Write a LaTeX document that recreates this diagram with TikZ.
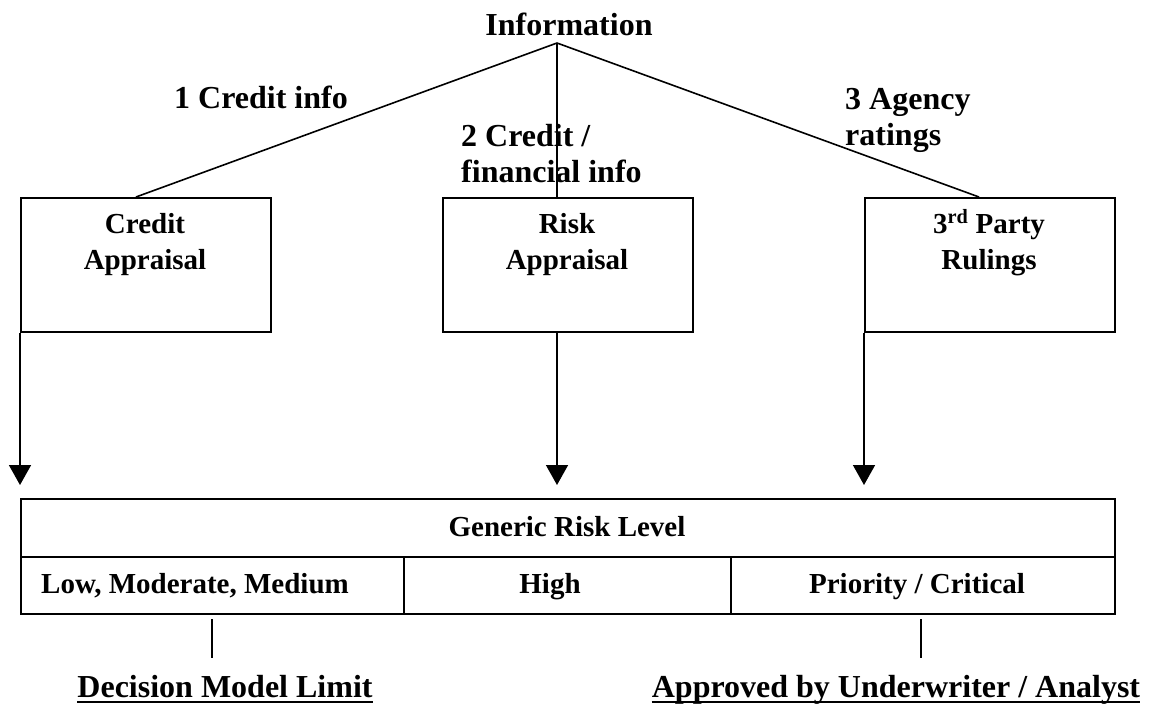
\documentclass[tikz,border=0pt]{standalone}
\usepackage{fontspec}
\setmainfont{Liberation Serif}
\usetikzlibrary{arrows.meta,calc}
\begin{document}
\begin{tikzpicture}[x=1pt,y=-1pt,
  box/.style={draw, line width=1.8pt, minimum width=250pt, minimum height=134pt, anchor=north west, inner sep=0pt},
  cell/.style={draw, line width=1.8pt, anchor=north west, inner sep=0pt},
  conn/.style={line width=1.6pt},
  arr/.style={line width=1.6pt, -{Triangle[width=22pt,length=20pt]}},
  big/.style={inner sep=0pt, font=\fontsize{32}{36}\selectfont\bfseries, align=left},
  btext/.style={inner sep=0pt, font=\fontsize{29}{36}\selectfont\bfseries, align=center},
  uline/.style={line width=2.6pt}
]
\useasboundingbox (0,0) rectangle (1151,704);

% title
\node[big, anchor=base] (info) at (569,35) {Information};
\coordinate (apex) at (557,43);

% boxes
\node[box] (credit) at (20,197) {};
\node[box] (risk) at (442,197) {};
\node[box] (party) at (864,197) {};

% (anchor=base of a multi-line node is the baseline of its last line)
\node[btext, anchor=base] (creditT) at (145,269) {Credit\\Appraisal};
\node[btext, anchor=base] (riskT) at (567,269) {Risk\\Appraisal};
\node[btext, anchor=base] (partyT) at (989,269) {3\textsuperscript{rd} Party\\Rulings};

\coordinate (riskIn) at ($(risk.north west)+(115,0)$);
\coordinate (riskOut) at ($(risk.south west)+(115,0)$);

% connectors from information
\draw[conn] (apex) -- ($(credit.north west)+(116,0)$);
\draw[conn] (apex) -- (riskIn);
\draw[conn] (apex) -- ($(party.north west)+(115,0)$);

% connector labels
\node[big, anchor=base west] (l1) at (174,108) {1 Credit info};
\node[big, anchor=base west] (l2) at (461,182) {2 Credit /\\financial info};
\node[big, anchor=base west] (l3) at (845,145) {3 Agency\\ratings};

% table
\node[cell, minimum width=1094pt, minimum height=58pt] (gen) at (20,498) {};
\node[cell, minimum width=383pt, minimum height=57pt] (low) at (20,556) {};
\node[cell, minimum width=327pt, minimum height=57pt] (high) at (403,556) {};
\node[cell, minimum width=384pt, minimum height=57pt] (prio) at (730,556) {};

\node[btext, anchor=base] (genT) at (567,536) {Generic Risk Level};
\node[btext, anchor=base] (lowT) at (195,593) {Low, Moderate, Medium};
\node[btext, anchor=base] (highT) at (550,593) {High};
\node[btext, anchor=base] (prioT) at (917,593) {Priority / Critical};

% arrows into table
\coordinate (a1) at (20,485);
\coordinate (a2) at (557,485);
\coordinate (a3) at (864,485);
\draw[arr] (credit.south west) -- (a1);
\draw[arr] (riskOut) -- (a2);
\draw[arr] (party.south west) -- (a3);

% bottom ticks and labels
\coordinate (t1a) at (212,619);
\coordinate (t1b) at (212,658);
\coordinate (t2a) at (921,619);
\coordinate (t2b) at (921,658);
\draw[conn] (t1a) -- (t1b);
\draw[conn] (t2a) -- (t2b);

\node[big, anchor=base] (dec) at (225,697) {Decision Model Limit};
\node[big, anchor=base] (appr) at (896,697) {Approved by Underwriter / Analyst};
\draw[uline] ($(dec.base west)+(0,5)$) -- ($(dec.base east)+(0,5)$);
\draw[uline] ($(appr.base west)+(0,5)$) -- ($(appr.base east)+(0,5)$);
\end{tikzpicture}
\end{document}
